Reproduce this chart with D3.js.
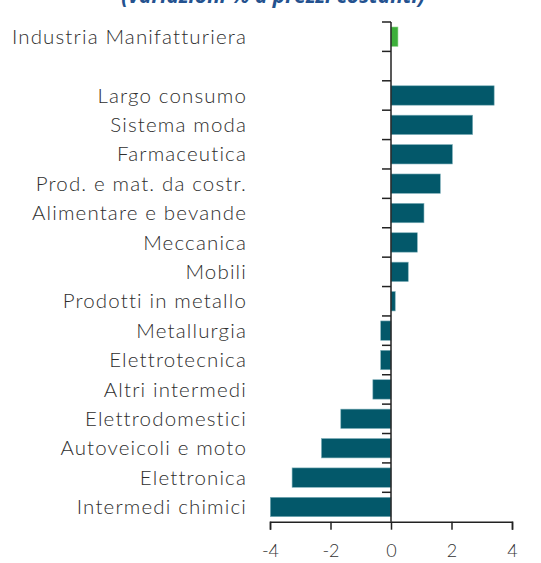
<!DOCTYPE html>
<html><head><meta charset="utf-8">
<script src="https://cdn.jsdelivr.net/npm/d3@7"></script>
<style>body{margin:0;background:#fff;} svg{display:block;}</style>
</head><body>
<script>
const categories = ["Industria Manifatturiera", "", "Largo consumo", "Sistema moda", "Farmaceutica",
  "Prod. e mat. da costr.", "Alimentare e bevande", "Meccanica", "Mobili", "Prodotti in metallo",
  "Metallurgia", "Elettrotecnica", "Altri intermedi", "Elettrodomestici", "Autoveicoli e moto",
  "Elettronica", "Intermedi chimici"];
const values = [0.23, null, 3.41, 2.7, 2.03, 1.63, 1.09, 0.87, 0.57, 0.14,
  -0.34, -0.34, -0.6, -1.66, -2.3, -3.27, -3.99];
const xTicks = [-4, -2, 0, 2, 4];
const title = "(variazioni % a prezzi costanti)";

const W = 541, H = 563;
const svg = d3.select("body").append("svg").attr("width", W).attr("height", H);

const x = d3.scaleLinear().domain([-4, 4]).range([270, 512]);
const y = d3.scaleBand().domain(d3.range(categories.length)).range([22, 521.7]).paddingInner(0.34).paddingOuter(0.17);

svg.append("text").attr("x", 273).attr("y", 3).attr("text-anchor", "middle")
  .attr("font-family", "Open Sans, sans-serif").attr("font-style", "italic").attr("font-weight", 700)
  .attr("font-size", 21).attr("fill", "#24528f").text(title);

// bars
svg.selectAll("rect.bar").data(values.map((v, i) => ({v, i})).filter(d => d.v !== null))
  .enter().append("rect").attr("class", "bar")
  .attr("x", d => x(Math.min(0, d.v)))
  .attr("width", d => Math.abs(x(d.v) - x(0)))
  .attr("y", d => y(d.i)).attr("height", y.bandwidth())
  .attr("fill", d => d.i === 0 ? "#3daf3a" : "#03586a")
  .attr("stroke", d => d.i === 0 ? "#8fd88c" : "#7fb0ba").attr("stroke-width", 0.6);

// category labels
svg.selectAll("text.cat").data(categories).enter().append("text").attr("class", "cat")
  .attr("x", 247).attr("y", (d, i) => y(i) + y.bandwidth() / 2)
  .attr("dy", "0.35em").attr("text-anchor", "end")
  .attr("font-family", "Lato, sans-serif").attr("font-weight", 300).attr("font-size", 20.5)
  .attr("letter-spacing", "1.15px").attr("fill", "#2e2e2e")
  .text(d => d);

// y axis with ticks between bands
const step = y.step();
const yAxisG = svg.append("g").attr("stroke", "#222");
yAxisG.append("line").attr("x1", x(0)).attr("x2", x(0)).attr("y1", 22).attr("y2", 521.7).attr("stroke-width", 1.5);
yAxisG.selectAll("line.t").data(d3.range(categories.length)).enter().append("line").attr("class", "t")
  .attr("x1", x(0) - 9).attr("x2", x(0)).attr("y1", i => 22 + i * step).attr("y2", i => 22 + i * step)
  .attr("stroke-width", 1.5);

// x axis
const xAxis = d3.axisBottom(x).tickValues(xTicks).tickSize(8).tickPadding(15).tickFormat(d => String(d));
const gx = svg.append("g").attr("transform", "translate(0,521.7)").call(xAxis);
gx.select(".domain").attr("stroke", "#222").attr("stroke-width", 1.5);
gx.selectAll(".tick line").attr("stroke", "#222").attr("stroke-width", 1.5);
gx.selectAll(".tick text").attr("font-family", "Lato, sans-serif").attr("font-weight", 300)
  .attr("font-size", 18).attr("fill", "#333");
</script>
</body></html>
